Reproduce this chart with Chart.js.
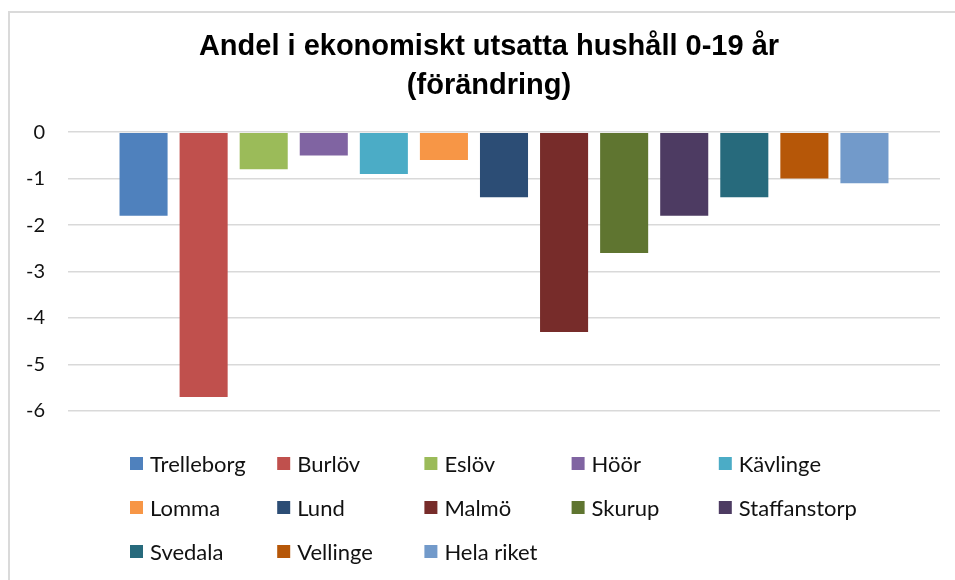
<!DOCTYPE html>
<html>
<head>
<meta charset="utf-8">
<script src="https://cdn.jsdelivr.net/npm/chart.js@4.4.1/dist/chart.umd.min.js"></script>
<style>
  html, body { margin: 0; padding: 0; background: #fff; }
  #wrap { position: relative; width: 955px; height: 580px; overflow: hidden; }
  #frame { position: absolute; left: 8px; top: 11px; right: -10px; bottom: -10px;
           border-top: 2px solid #dadada; border-left: 2px solid #dadada; }
  #chart { position: absolute; left: 0; top: 0; }
</style>
</head>
<body>
<div id="wrap">
  <div id="frame"></div>
  <canvas id="chart" width="955" height="580"></canvas>
</div>
<script>
// Andel i ekonomiskt utsatta hushåll 0-19 år, förändring per kommun
const municipalities = ['Trelleborg', 'Burlöv', 'Eslöv', 'Höör', 'Kävlinge', 'Lomma', 'Lund',
  'Malmö', 'Skurup', 'Staffanstorp', 'Svedala', 'Vellinge', 'Hela riket'];
const changeValues = [-1.8, -5.7, -0.8, -0.5, -0.9, -0.6, -1.4, -4.3, -2.6, -1.8, -1.4, -1.0, -1.1];
const barColors = ['#4f81bd', '#c0504d', '#9bbb59', '#8064a2', '#4bacc6', '#f79646', '#2c4d75',
  '#772c2a', '#5f7530', '#4d3b62', '#276a7c', '#b65708', '#729aca'];
const yTicks = [0, -1, -2, -3, -4, -5, -6];

// Legend laid out in fixed columns, like the Excel original
const gridLegend = {
  id: 'gridLegend',
  afterLayout(chart, args, opts) {
    // the original title is centred on the whole (uncropped) chart, a bit right of ours
    chart.titleBlock.left += opts.titleShift;
    chart.titleBlock.right += opts.titleShift;
  },
  afterDraw(chart, args, opts) {
    const ctx = chart.ctx;
    ctx.save();
    ctx.font = opts.font;
    ctx.textBaseline = 'middle';
    ctx.textAlign = 'left';
    chart.data.datasets.forEach((ds, i) => {
      const col = i % opts.columns;
      const row = Math.floor(i / opts.columns);
      const x = opts.x + col * opts.colWidth;
      const y = opts.y + row * opts.rowHeight;
      ctx.fillStyle = ds.backgroundColor;
      ctx.fillRect(x, y - opts.box / 2, opts.box, opts.box);
      ctx.fillStyle = opts.color;
      ctx.fillText(ds.label, x + opts.textOffset, y + 1);
    });
    ctx.restore();
  }
};

const ctx = document.getElementById('chart').getContext('2d');
const chart = new Chart(ctx, {
  type: 'bar',
  data: {
    labels: [''],
    datasets: municipalities.map((name, i) => ({
      label: name,
      data: [changeValues[i]],
      backgroundColor: barColors[i],
      borderWidth: 0,
      categoryPercentage: 0.8956,
      barPercentage: 0.8
    }))
  },
  options: {
    responsive: false,
    animation: false,
    layout: { padding: { left: 0, right: 15, top: 0, bottom: 169 } },
    plugins: {
      legend: { display: false },
      tooltip: { enabled: false },
      title: {
        display: true,
        text: ['Andel i ekonomiskt utsatta hushåll 0-19 år', '(förändring)'],
        color: '#000',
        font: { family: '"Liberation Sans", Arial, sans-serif', size: 29, weight: 'bold', lineHeight: 1.33 },
        padding: { top: 28, bottom: 27 }
      },
      gridLegend: {
        titleShift: 19,
        font: '22px Lato, "Noto Sans", sans-serif',
        color: '#111',
        columns: 5,
        x: 130,
        y: 463.5,
        colWidth: 147.2,
        rowHeight: 44,
        box: 13,
        textOffset: 20
      }
    },
    scales: {
      x: { display: false },
      y: {
        min: -6,
        max: 0,
        afterFit: scale => { scale.width = 68; },
        afterBuildTicks: scale => { scale.ticks = yTicks.map(v => ({ value: v })); },
        border: { display: false },
        grid: { color: '#d9d9d9', lineWidth: 1.5, drawTicks: false },
        ticks: {
          padding: 23,
          color: '#111',
          font: { family: 'Lato, "Noto Sans", sans-serif', size: 20 }
        }
      }
    }
  },
  plugins: [gridLegend]
});
</script>
</body>
</html>
